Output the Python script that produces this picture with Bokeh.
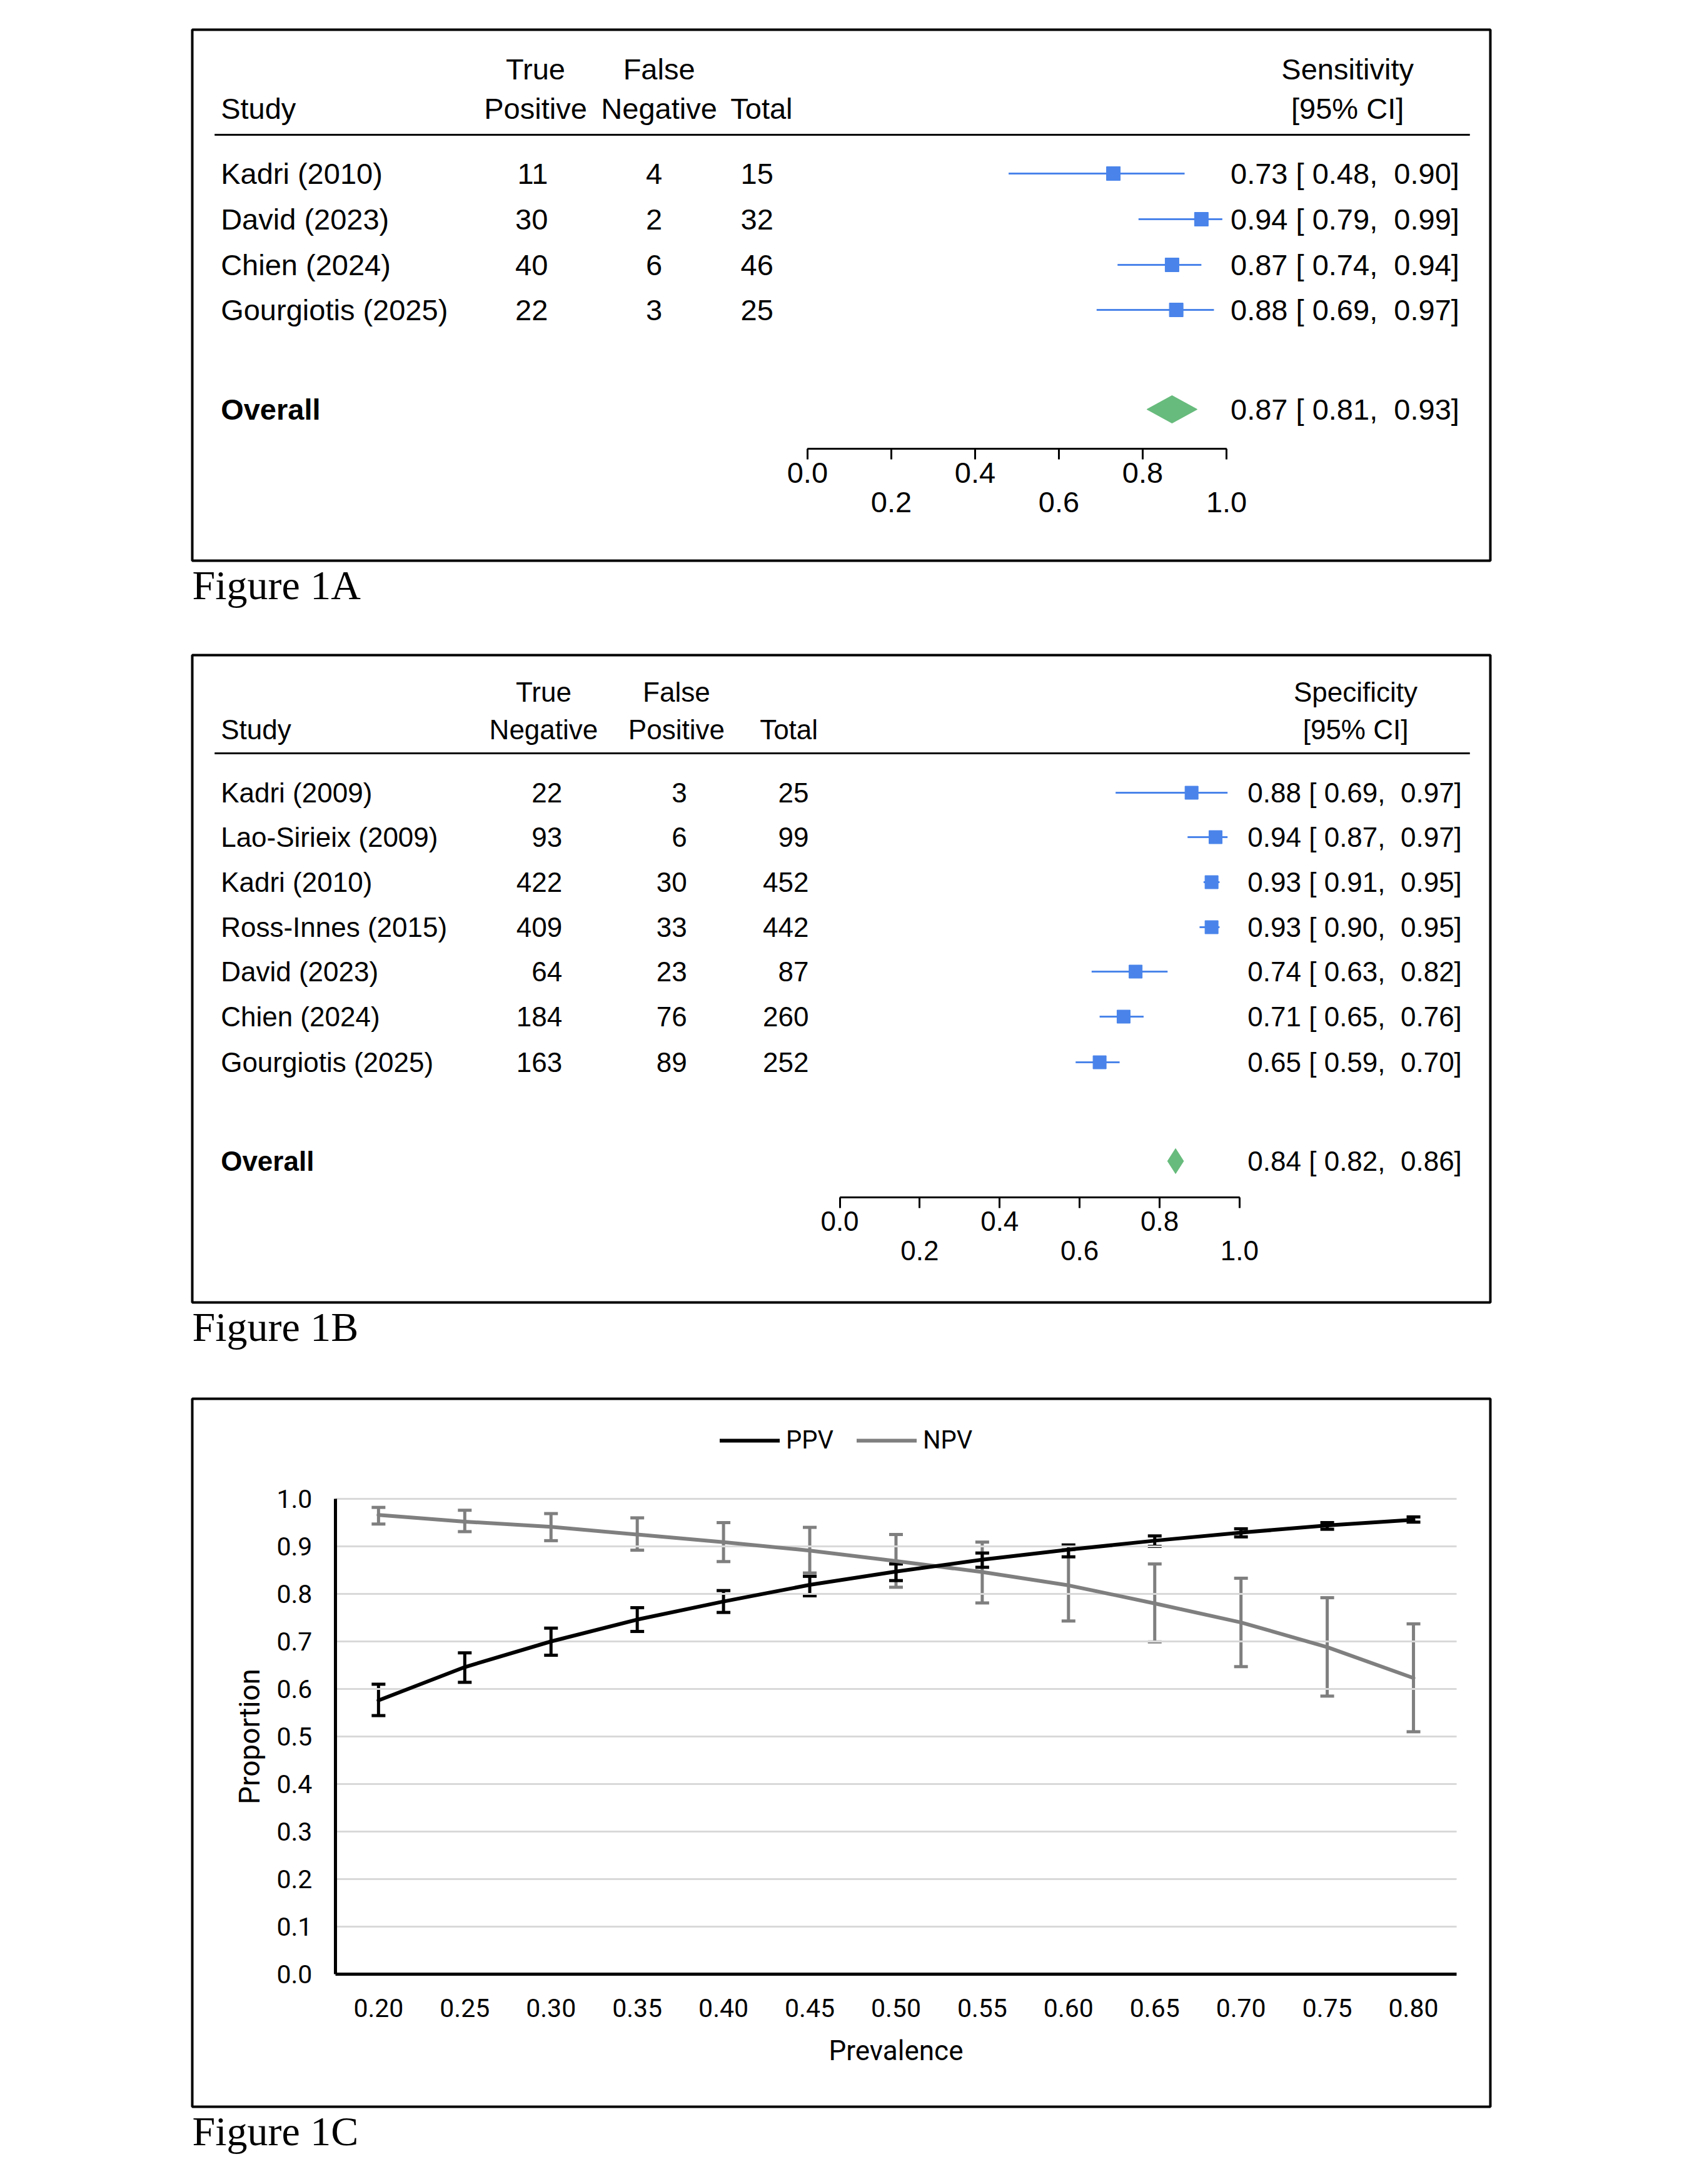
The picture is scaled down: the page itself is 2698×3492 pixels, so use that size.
from bokeh.plotting import figure
from bokeh.models import (Range1d, LinearAxis, FixedTicker, Title, ColumnDataSource,
                          Whisker, TeeHead, Legend, LegendItem, PrintfTickFormatter)
from bokeh.layouts import column
from bokeh.core.properties import value
from bokeh.embed import file_html
from bokeh.resources import INLINE

# ---------------- data: Figure 1A (sensitivity) ----------------
studies_a = ["Kadri (2010)", "David (2023)", "Chien (2024)", "Gourgiotis (2025)"]
tp_a = [11, 30, 40, 22]
fn_a = [4, 2, 6, 3]
total_a = [15, 32, 46, 25]
sens_a = [0.73, 0.94, 0.87, 0.88]
sens_lo_a = [0.48, 0.79, 0.74, 0.69]
sens_hi_a = [0.90, 0.99, 0.94, 0.97]
overall_a = [0.87, 0.81, 0.93]

# ---------------- data: Figure 1B (specificity) ----------------
studies_b = ["Kadri (2009)", "Lao-Sirieix (2009)", "Kadri (2010)", "Ross-Innes (2015)",
             "David (2023)", "Chien (2024)", "Gourgiotis (2025)"]
tn_b = [22, 93, 422, 409, 64, 184, 163]
fp_b = [3, 6, 30, 33, 23, 76, 89]
total_b = [25, 99, 452, 442, 87, 260, 252]
spec_b = [0.88, 0.94, 0.93, 0.93, 0.74, 0.71, 0.65]
spec_lo_b = [0.69, 0.87, 0.91, 0.90, 0.63, 0.65, 0.59]
spec_hi_b = [0.97, 0.97, 0.95, 0.95, 0.82, 0.76, 0.70]
overall_b = [0.84, 0.82, 0.86]

forest_ticks_row1 = [0.0, 0.4, 0.8]
forest_ticks_row2 = [0.2, 0.6, 1.0]

# ---------------- data: Figure 1C (PPV / NPV vs prevalence) ----------------
prevalence = [0.20, 0.25, 0.30, 0.35, 0.40, 0.45, 0.50, 0.55, 0.60, 0.65, 0.70, 0.75, 0.80]
ppv = [0.576, 0.646, 0.700, 0.746, 0.784, 0.819, 0.847, 0.872, 0.893, 0.912, 0.929, 0.944, 0.956]
ppv_lo = [0.544, 0.614, 0.671, 0.721, 0.761, 0.796, 0.828, 0.856, 0.878, 0.900, 0.920, 0.936, 0.951]
ppv_hi = [0.610, 0.676, 0.728, 0.771, 0.807, 0.837, 0.863, 0.886, 0.903, 0.922, 0.937, 0.950, 0.962]
npv = [0.966, 0.952, 0.941, 0.925, 0.909, 0.891, 0.869, 0.846, 0.818, 0.780, 0.740, 0.688, 0.623]
npv_lo = [0.947, 0.931, 0.912, 0.892, 0.868, 0.844, 0.814, 0.781, 0.743, 0.699, 0.647, 0.585, 0.510]
npv_hi = [0.982, 0.976, 0.969, 0.960, 0.950, 0.940, 0.925, 0.909, 0.893, 0.863, 0.833, 0.792, 0.737]
y_ticks_c = [0.0, 0.1, 0.2, 0.3, 0.4, 0.5, 0.6, 0.7, 0.8, 0.9, 1.0]

SANS = "Liberation Sans"
SERIF = "Liberation Serif"
CFONT = "Roboto"
BLUE = "#4a84ea"
GREEN = "#67bb7c"
LEFT = 307
NB = "\u00a0"


def caption(p, text):
    p.add_layout(Title(text=text, align="left", text_font=SERIF, text_font_size="66px",
                       text_font_style="normal", text_color="black", standoff=0, offset=0),
                 "below")


def ci_label(e, l, h):
    return f"{e:.2f} [{NB}{l:.2f},{NB}{NB}{h:.2f}]"


def forest(height, top, fw, fh, fs, x0px, unit, headers, study_names, cols, est, lo, hi,
           overall, row_y, overall_y, axis_y, rule_y, hdr1_y, hdr2_y, ci_right, ci_hdr,
           diamond_h, sq_size, cap):
    xs = -x0px / unit
    xe = (fw - x0px) / unit
    p = figure(width=2600, height=height, min_border_left=LEFT, min_border_right=2600 - LEFT - fw,
               min_border_top=top, min_border_bottom=height - top - fh,
               x_range=Range1d(xs, xe), y_range=Range1d(fh, 0),
               x_axis_type=None, y_axis_type=None, toolbar_location=None, output_backend="svg")
    p.extra_x_ranges = {"px": Range1d(0, fw)}
    p.outline_line_color = "black"
    p.outline_line_width = 4
    p.background_fill_color = "white"
    p.border_fill_color = "white"

    tk = dict(text_font=value(SANS), text_font_size=fs, text_color="black", x_range_name="px")

    # headers
    p.text(x=[46], y=[hdr2_y], text=["Study"], text_align="left", text_baseline="middle", **tk)
    for h1, h2, hx in headers:
        if h1:
            p.text(x=[hx], y=[hdr1_y], text=[h1], text_align="center", text_baseline="middle", **tk)
        p.text(x=[hx], y=[hdr2_y], text=[h2], text_align="center", text_baseline="middle", **tk)
    p.text(x=[ci_hdr], y=[hdr1_y], text=[cap[0]], text_align="center", text_baseline="middle", **tk)
    p.text(x=[ci_hdr], y=[hdr2_y], text=[cap[1]], text_align="center", text_baseline="middle", **tk)
    p.segment(x0=[36], x1=[2058], y0=[rule_y], y1=[rule_y], line_color="black",
              line_width=3, x_range_name="px")

    # study rows
    p.text(x=[46] * len(study_names), y=row_y, text=study_names, text_align="left",
           text_baseline="middle", **tk)
    for vals, xr in cols:
        p.text(x=[xr] * len(vals), y=row_y, text=[str(v) for v in vals], text_align="right",
               text_baseline="middle", **tk)
    ci_txt = [ci_label(e, l, h) for e, l, h in zip(est, lo, hi)]
    p.text(x=[ci_right] * len(est), y=row_y, text=ci_txt, text_align="right",
           text_baseline="middle", **tk)

    # CI segments and squares
    p.segment(x0=lo, x1=hi, y0=row_y, y1=row_y, line_color=BLUE, line_width=3)
    p.scatter(x=est, y=row_y, marker="square", size=sq_size, fill_color=BLUE, line_color=BLUE)

    # overall
    oe, ol, oh = overall
    p.text(x=[46], y=[overall_y], text=["Overall"], text_align="left", text_baseline="middle",
           text_font_style="bold", **tk)
    p.patch(x=[ol, oe, oh, oe], y=[overall_y, overall_y - diamond_h, overall_y, overall_y + diamond_h],
            fill_color=GREEN, line_color=GREEN, line_width=1)
    p.text(x=[ci_right], y=[overall_y], text=[ci_label(oe, ol, oh)],
           text_align="right", text_baseline="middle", **tk)

    # x axis (two staggered label rows)
    for ticks, standoff in ((forest_ticks_row1, 5), (forest_ticks_row2, 52)):
        ax = LinearAxis(fixed_location=axis_y, bounds=(0, 1), ticker=FixedTicker(ticks=ticks),
                        formatter=PrintfTickFormatter(format="%.1f"),
                        major_tick_out=17, major_tick_in=0, minor_tick_out=0, minor_tick_in=0,
                        axis_line_width=3, major_tick_line_width=3,
                        major_label_standoff=standoff,
                        major_label_text_font=SANS, major_label_text_font_size=fs,
                        major_label_text_color="black")
        p.add_layout(ax, "below")
    caption(p, cap[2])
    return p


# ---------- Figure 1A ----------
pa = forest(height=1007, top=47, fw=2091, fh=849, fs="47px", x0px=991, unit=675,
            headers=[("True", "Positive", 553), ("False", "Negative", 752), ("", "Total", 917)],
            study_names=studies_a,
            cols=[(tp_a, 573), (fn_a, 757), (total_a, 936)],
            est=sens_a, lo=sens_lo_a, hi=sens_hi_a, overall=overall_a,
            row_y=[230, 303, 376, 448], overall_y=607, axis_y=670, rule_y=168,
            hdr1_y=63, hdr2_y=126, ci_right=2041, ci_hdr=1861, diamond_h=22, sq_size=22,
            cap=("Sensitivity", "[95% CI]", "Figure 1A"))

# ---------- Figure 1B ----------
pb = forest(height=1189, top=40, fw=2091, fh=1035, fs="44px", x0px=1043, unit=644,
            headers=[("True", "Negative", 566), ("False", "Positive", 780), ("", "Total", 961)],
            study_names=studies_b,
            cols=[(tn_b, 596), (fp_b, 797), (total_b, 993)],
            est=spec_b, lo=spec_lo_b, hi=spec_hi_b, overall=overall_b,
            row_y=[220, 291, 363, 435, 506, 578, 651], overall_y=809, axis_y=867, rule_y=157,
            hdr1_y=59, hdr2_y=119, ci_right=2045, ci_hdr=1874, diamond_h=20, sq_size=21,
            cap=("Specificity", "[95% CI]", "Figure 1B"))

# ---------- Figure 1C ----------
fw_c, fh_c = 2077, 1132
ppx = 2760.0   # px per prevalence unit
ypx = 760.0    # px per proportion unit
x_start = prevalence[0] - 298 / ppx
y_end = 1.0 + 160 / ypx
y_start = 0.0 - (fh_c - 920) / ypx
pc = figure(width=2600, height=1282, min_border_left=LEFT - 1, min_border_right=2600 - LEFT + 1 - fw_c,
            min_border_top=40, min_border_bottom=1282 - 40 - fh_c,
            x_range=Range1d(x_start, x_start + fw_c / ppx), y_range=Range1d(y_start, y_end),
            x_axis_type=None, y_axis_type=None, toolbar_location=None, output_backend="svg")
pc.outline_line_color = "black"
pc.outline_line_width = 4

x_lo = prevalence[0] - 0.025
x_hi = prevalence[-1] + 0.025
grid_y = y_ticks_c[1:]
pc.segment(x0=[x_lo] * len(grid_y), x1=[x_hi] * len(grid_y), y0=grid_y, y1=grid_y,
           line_color="#d9d9d9", line_width=3)

src_n = ColumnDataSource(dict(x=prevalence, y=npv, lo=npv_lo, hi=npv_hi))
src_p = ColumnDataSource(dict(x=prevalence, y=ppv, lo=ppv_lo, hi=ppv_hi))
GRAY = "#7f7f7f"
r_npv = pc.line("x", "y", source=src_n, line_color=GRAY, line_width=6, line_cap="round",
                line_join="round")
r_ppv = pc.line("x", "y", source=src_p, line_color="black", line_width=6, line_cap="round",
                line_join="round")
for src, col in ((src_n, GRAY), (src_p, "black")):
    pc.add_layout(Whisker(source=src, base="x", lower="lo", upper="hi", dimension="height",
                          line_color=col, line_width=5,
                          upper_head=TeeHead(size=22, line_color=col, line_width=5),
                          lower_head=TeeHead(size=22, line_color=col, line_width=5)))

xax = LinearAxis(fixed_location=0.0, bounds=(x_lo, x_hi), ticker=FixedTicker(ticks=prevalence),
                 formatter=PrintfTickFormatter(format="%.2f"),
                 major_tick_out=0, major_tick_in=0, minor_tick_out=0, minor_tick_in=0,
                 axis_line_width=5, axis_line_color="black", major_label_standoff=39,
                 major_label_text_font=CFONT, major_label_text_font_size="41px",
                 major_label_text_color="black",
                 axis_label="Prevalence", axis_label_standoff=25, axis_label_text_font=CFONT,
                 axis_label_text_font_size="44px", axis_label_text_font_style="normal",
                 axis_label_text_color="black")
pc.add_layout(xax, "below")
yax = LinearAxis(fixed_location=x_lo, bounds=(0, 1), ticker=FixedTicker(ticks=y_ticks_c),
                 formatter=PrintfTickFormatter(format="%.1f"),
                 major_tick_out=0, major_tick_in=0, minor_tick_out=0, minor_tick_in=0,
                 axis_line_width=5, axis_line_color="black", major_label_standoff=37,
                 major_label_text_font=CFONT, major_label_text_font_size="41px",
                 major_label_text_color="black",
                 axis_label="Proportion", axis_label_standoff=14, axis_label_text_font=CFONT,
                 axis_label_text_font_size="46px", axis_label_text_font_style="normal",
                 axis_label_text_color="black")
pc.add_layout(yax, "left")

legend = Legend(items=[LegendItem(label="PPV", renderers=[r_ppv]),
                       LegendItem(label="NPV", renderers=[r_npv])],
                orientation="horizontal", location=(844, fh_c - 90),
                border_line_color=None, background_fill_alpha=0, padding=0, margin=0,
                spacing=37, glyph_width=96, glyph_height=40, label_standoff=10,
                label_height=40, label_text_font=CFONT, label_text_font_size="40px",
                label_text_color="black")
pc.add_layout(legend)
caption(pc, "Figure 1C")

layout = column(pa, pb, pc, spacing=0)
open("out.html", "w").write(file_html(layout, INLINE))
